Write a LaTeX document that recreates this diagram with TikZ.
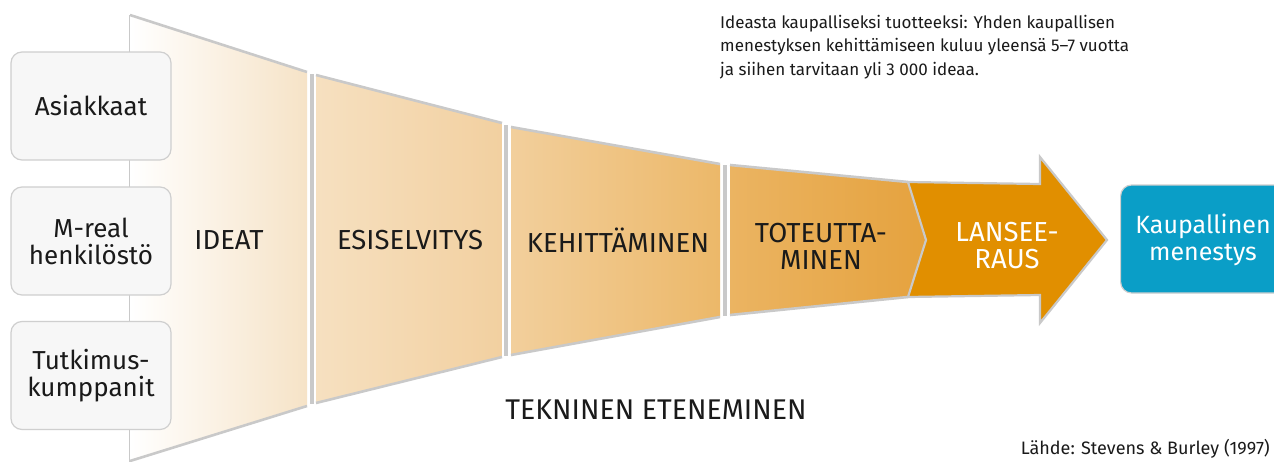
\documentclass[tikz,border=0pt]{standalone}
\usepackage{fontspec}
\setmainfont{Fira Sans}
\begin{document}
\begin{tikzpicture}[x=1pt,y=-1pt,
  outline/.style={draw=edgegray,line width=2.6pt,line join=round},
  sidebox/.style={draw=boxgray,fill=boxfill,line width=1.2pt,rounded corners=11pt,minimum width=160pt,minimum height=108pt,align=center,text=txt,font=\fontsize{26}{29}\selectfont},
  stagetxt/.style={text=txt,align=center,font=\fontsize{27.5}{27}\selectfont},
  bar/.style={draw=edgegray,line width=3.5pt}]
\definecolor{edgegray}{HTML}{C9C9C9}
\definecolor{boxgray}{HTML}{CFCFCF}
\definecolor{boxfill}{HTML}{F7F7F7}
\definecolor{txt}{HTML}{1A1A1A}
\definecolor{arroworange}{HTML}{E18F00}
\definecolor{kblue}{HTML}{0A9EC7}
\definecolor{sA}{HTML}{FFFFFF}
\definecolor{sB}{HTML}{F6E3C7}
\definecolor{sC}{HTML}{F6E0C0}
\definecolor{sD}{HTML}{F2D0A0}
\definecolor{sE}{HTML}{F2CF9C}
\definecolor{sF}{HTML}{ECB869}
\definecolor{sG}{HTML}{EBB462}
\definecolor{sH}{HTML}{E5A23E}
\clip (0,0) rectangle (1274,461);
\fill[white] (0,0) rectangle (1274,461);
% left vertical line
\coordinate (vtop) at (130,15);
\coordinate (vbot) at (130,462);
\draw[outline] (vtop) -- (vbot);
% segment 1
\shade[left color=sA,right color=sB] (130,15) -- (307,72) -- (307,406) -- (130,461) -- cycle;
\draw[outline] (130,15) -- (307,72);
\draw[outline] (130,461) -- (307,406);
\draw[bar] (312,74) -- (312,404);
% segment 2
\shade[left color=sC,right color=sD] (316,75) -- (502,123) -- (502,357) -- (316,403) -- cycle;
\draw[outline] (316,75) -- (502,123);
\draw[outline] (316,403) -- (502,357);
\draw[bar] (506,125) -- (506,356);
% segment 3
\shade[left color=sE,right color=sF] (511,127) -- (720,164) -- (720,317) -- (511,355) -- cycle;
\draw[outline] (511,127) -- (720,164);
\draw[outline] (511,355) -- (720,317);
\draw[bar] (725,165) -- (725,316);
% segment 4
\shade[left color=sG,right color=sH] (730,165) -- (908,182) -- (926,240) -- (908,297) -- (730,315) -- cycle;
\draw[outline] (730,165) -- (908,182);
\draw[outline] (730,315) -- (908,297);
% arrow
\filldraw[fill=arroworange,draw=edgegray,line width=2.2pt,line join=miter]
  (908,182) -- (1040,184) -- (1040,157) -- (1107,240) -- (1040,323) -- (1040,295) -- (908,297) -- (926,240) -- cycle;
% side boxes
\node[sidebox] (asiakkaat) at (91,106) {Asiakkaat};
\node[sidebox] (mreal) at (91,241) {M-real\\[-2pt]henkilöstö};
\node[sidebox] (tutkimus) at (91,375.5) {Tutkimus-\\[-2pt]kumppanit};
% stage labels
\node[stagetxt] (ideat) at (229,240) {IDEAT};
\node[stagetxt] (esisel) at (410,240) {ESISELVITYS};
\node[stagetxt] (kehit) at (618,240) {KEHITTÄMINEN};
\node[stagetxt] (toteut) at (821,246) {TOTEUTTA-\\MINEN};
\node[stagetxt,text=white,font=\fontsize{27.5}{27}\selectfont] (lansee) at (1007,246) {LANSEE-\\RAUS};
% final box
\node[draw=boxgray,fill=kblue,line width=1.2pt,rounded corners=11pt,minimum width=170pt,minimum height=108pt,anchor=west] (kaup) at (1120,239) {};
\node[text=white,align=center,font=\fontsize{25}{27}\selectfont] (kauptxt) at (1203,240) {Kaupallinen\\menestys};
% bottom label
\node[text=txt,font=\fontsize{28.5}{30}\selectfont] (tekn) at (656,410) {TEKNINEN ETENEMINEN};
% note
\node[anchor=north west,align=left,text=txt,inner sep=0pt,font=\fontsize{17}{23.5}\selectfont] (note) at (720,15) {Ideasta kaupalliseksi tuotteeksi: Yhden kaupallisen\\menestyksen kehittämiseen kuluu yleensä 5–7 vuotta\\ja siihen tarvitaan yli 3 000 ideaa.};
\node[anchor=south east,text=txt,inner sep=0pt,font=\fontsize{18}{20}\selectfont] (src) at (1270,459) {Lähde: Stevens \& Burley (1997)};
\end{tikzpicture}
\end{document}
